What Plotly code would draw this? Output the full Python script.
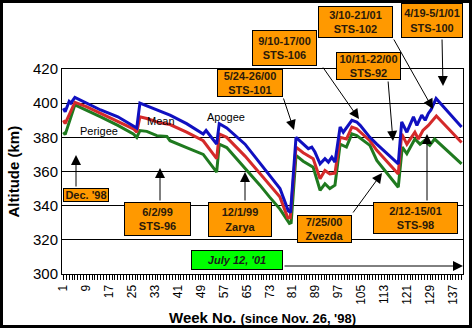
import plotly.graph_objects as go

# ---------------- data ----------------
apogee_weeks = [1, 1.6, 3.0, 3.6, 5.0, 9, 14, 20, 25.4, 26.6, 27.7, 30, 34.7, 38.2, 44, 48, 49.8, 50.8,
                54.5, 55.4, 58, 64.4, 69.6, 73, 76.6, 79.5, 80.3, 82.2, 84.7, 86.5, 87.7, 88.8, 90.6,
                92.3, 93.5, 94.7, 95.8, 97.6, 98.7, 101.7, 103.4, 104.6, 108, 110.4, 117.9, 119.1,
                120.9, 123.2, 124.4, 126.1, 127.3, 128.4, 129.3, 131.1, 140]
apogee_alt = [397, 395, 401, 400, 403.4, 400, 396, 392, 387, 385.5, 400, 398.5, 395, 393, 388, 384, 382, 384,
              376, 388, 385.5, 376, 365, 358, 350, 337, 336, 380, 376, 373.4, 374.3, 371.4, 364.5,
              367.5, 365.5, 368.4, 365.5, 386, 383, 390, 389, 387, 380, 376, 364.5, 389,
              383, 392, 387, 393, 390, 394, 396, 402.7, 386]

mean_weeks = [1, 1.6, 5.0, 9, 14, 20, 25.4, 26.6, 27.7, 30.1, 34.7, 38.2, 44, 49.8, 54.5, 55.4, 58,
              64.4, 69.6, 73, 76.6, 79.3, 80.2, 82.2, 84.7, 88.2, 90.6, 92.3, 94.0, 95.8, 97.6, 99.8,
              101.7, 103.4, 108, 110.4, 117.9, 119.1, 120.9, 123.7, 124.9, 126.5, 128.4, 131.2, 140]
mean_alt = [390, 388, 400.5, 398, 394, 389.5, 385, 383, 392, 391, 388.5, 387.5, 383, 378, 367.5, 382, 380,
            369, 359, 352, 345, 333, 333, 374.3, 371, 367.5, 355.7, 360.6, 358.6, 359, 380, 379,
            386, 385, 378, 372.4, 358.6, 382, 376, 383, 379, 384, 387, 392.5, 377]

perigee_weeks = [1, 1.6, 5.0, 9, 14, 20, 25.4, 26.6, 27.7, 30.1, 33.6, 37.1, 38.2, 44, 49.8, 54.5, 55.4,
                 58, 64.4, 69.6, 73, 76.6, 79.9, 80.5, 82.2, 84.7, 88.2, 90.6, 92.3, 94.0, 95.8, 97.6,
                 99.8, 101.7, 103.4, 108, 110.4, 117.9, 119.3, 120.9, 123.7, 125.5, 127.0, 128.9,
                 130.6, 140]
perigee_alt = [383, 381.6, 399, 396, 392, 387, 382, 380, 384, 383.5, 381, 380.5, 378, 374, 370, 359.6, 376,
               374, 362, 352, 345, 338, 329.6, 330, 369.4, 366, 362.5, 349, 352.8, 350, 352, 376,
               374.3, 382, 381, 375.3, 366.5, 350.8, 374.3, 370.4, 379, 376, 378, 375.3,
               379, 364.5]

week_ticks = list(range(1, 138, 8))
alt_ticks = [300, 320, 340, 360, 380, 400, 420]

series_labels = ["Perigee", "Mean", "Apogee"]

events = [
    ("Dec. '98",),
    ("6/2/99", "STS-96"),
    ("12/1/99", "Zarya"),
    ("7/25/00", "Zvezda"),
    ("2/12-15/01", "STS-98"),
    ("5/24-26/00", "STS-101"),
    ("9/10-17/00", "STS-106"),
    ("3/10-21/01", "STS-102"),
    ("10/11-22/00", "STS-92"),
    ("4/19-5/1/01", "STS-100"),
]
date_label = "July 12, '01"

# ---------------- layout geometry (pixels) ----------------
W, H = 472, 328
L, R, T, B = 62, 463, 69, 274


def px(x):
    return (x - L) / (R - L)


def py(y):
    return (B - y) / (B - T)


fig = go.Figure()
fig.add_trace(go.Scatter(x=perigee_weeks, y=perigee_alt, mode="lines",
                         line=dict(color="#1f7a1f", width=3), name="Perigee"))
fig.add_trace(go.Scatter(x=mean_weeks, y=mean_alt, mode="lines",
                         line=dict(color="#d42a2a", width=3), name="Mean"))
fig.add_trace(go.Scatter(x=apogee_weeks, y=apogee_alt, mode="lines",
                         line=dict(color="#1010c0", width=3), name="Apogee"))

font_family = "Arial, Liberation Sans, sans-serif"

fig.update_layout(
    width=W, height=H,
    margin=dict(l=L, r=W - R, t=T, b=H - B, pad=0),
    paper_bgcolor="white", plot_bgcolor="white",
    showlegend=False,
    font=dict(family=font_family, color="black"),
    xaxis=dict(range=[0.5, 140.5], tickmode="array", tickvals=week_ticks,
               ticktext=[str(t) for t in week_ticks], tickangle=-90,
               tickfont=dict(size=12), ticks="outside", ticklen=5, tickcolor="black",
               minor=dict(dtick=1, tick0=0, ticks="outside", ticklen=5, tickcolor="black"),
               showgrid=False, showline=True, linecolor="black", linewidth=1, mirror=True,
               zeroline=False),
    yaxis=dict(range=[300, 420], tickvals=alt_ticks, tickfont=dict(size=15),
               showgrid=True, gridcolor="black", gridwidth=1, ticks="",
               showline=True, linecolor="black", linewidth=1, mirror=True, zeroline=False),
)

ann = []
# axis titles
ann.append(dict(xref="paper", yref="paper", x=px(13), y=0.5, text="<b>Altitude (km)</b>",
                textangle=-90, showarrow=False, font=dict(size=15, color="black"),
                xanchor="center", yanchor="middle"))
ann.append(dict(xref="paper", yref="paper", x=px(262), y=py(317),
                text="<b>Week No. <span style='font-size:13px'>(since Nov. 26, '98)</span></b>",
                showarrow=False, font=dict(size=15, color="black"),
                xanchor="center", yanchor="middle"))

# series labels
for lab, (lx, ly) in zip(series_labels, [(78, 131), (145, 121), (205, 117)]):
    ann.append(dict(xref="paper", yref="paper", x=px(lx), y=py(ly), text=lab, showarrow=False,
                    font=dict(size=11, color="black"), xanchor="left", yanchor="middle"))

box_geom = [
    ((63, 188, 109, 202), (76, 188), (76, 155)),
    ((124, 202, 191, 236), (160, 202), (160, 168)),
    ((208, 202, 272, 237), (245, 202), (245, 172)),
    ((297, 215, 352, 243), (352, 214), (382, 173)),
    ((373, 202, 458, 234), (427, 202), (427, 134)),
    ((217, 69, 283, 97), (283, 97), (294, 130)),
    ((252, 30, 317, 66), (322, 66), (359, 119)),
    ((318, 6, 393, 38), (393, 38), (433, 109)),
    ((336, 52, 401, 80), (388, 80), (393, 141)),
    ((401, 3, 463, 38), (442, 38), (443, 86)),
]

arrows = []
for ev, (box, tail, tip) in zip(events, box_geom):
    x0, y0, x1, y1 = box
    arrows.append((tail, tip))
    ann.append(dict(xref="paper", yref="paper", x=px((x0 + x1) / 2), y=py((y0 + y1) / 2),
                    text="<br>".join("<b>%s</b>" % s for s in ev), showarrow=False,
                    xanchor="center", yanchor="middle",
                    width=x1 - x0 - 2, height=y1 - y0 - 2, borderpad=0,
                    bgcolor="#ff9900", bordercolor="black", borderwidth=1,
                    font=dict(size=11, color="#2a1a0a")))

# green date box
gx0, gy0, gx1, gy1 = 191, 250, 283, 270
ann.append(dict(xref="paper", yref="paper", x=px((gx0 + gx1) / 2), y=py((gy0 + gy1) / 2),
                text="<b><i>%s</i></b>" % date_label, showarrow=False,
                xanchor="center", yanchor="middle", width=gx1 - gx0 - 2, height=gy1 - gy0 - 2,
                borderpad=0, bgcolor="#00ff00", bordercolor="black", borderwidth=1,
                font=dict(size=11, color="#1a1a1a")))
arrows.append(((283, 266), (463, 266)))

for (tx, ty), (hx, hy) in arrows:
    ann.append(dict(xref="paper", yref="paper", x=px(hx), y=py(hy), text="",
                    showarrow=True, ax=tx - hx, ay=ty - hy, arrowhead=2, arrowsize=2,
                    arrowwidth=1, arrowcolor="black", standoff=0, startstandoff=0))

fig.update_layout(annotations=ann)

# outer frame
fig.add_shape(type="rect", xref="paper", yref="paper",
              x0=px(1.5), x1=px(W - 1.5), y0=py(H - 1.5), y1=py(1.5),
              line=dict(color="black", width=3), fillcolor="rgba(0,0,0,0)", layer="above")

fig.write_html("out.html")
